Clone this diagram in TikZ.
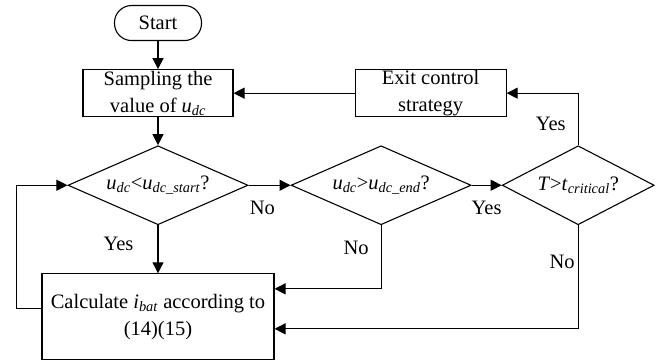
\documentclass[tikz,border=0pt]{standalone}
\usepackage{fontspec}
\setmainfont{Liberation Serif}
\usetikzlibrary{arrows.meta,positioning,shapes.geometric,calc}
\newcommand{\ivar}[2]{\textit{#1}\textsubscript{\textit{#2}}}

\begin{document}
\begin{tikzpicture}[%
    >={Triangle[length=11pt,width=11pt]},align=center,line width=1.1pt,
    every node/.style={font=\fontsize{20.5}{27}\selectfont}]
    \tikzstyle{base}=[draw=black,fill=white,line width=1.1pt]
    \tikzstyle{extreme}=[base,rectangle,rounded corners=17pt,minimum width=87pt,minimum height=35pt,inner sep=0pt]
    \tikzstyle{action}=[base,rectangle,minimum height=47pt,inner sep=0pt]
    \tikzstyle{condition}=[base,diamond,inner sep=0pt,aspect=2.28,minimum height=79pt]
    \tikzstyle{lbl}=[inner sep=0pt]
    % All states
    \node (start) [extreme]                                  {Start};
    \node (sample) [action,minimum width=150pt,below=28pt of start]
          {Sampling the\\value of \ivar{u}{dc}};
    \node (exit) [action,minimum width=151pt,right=121pt of sample]
          {Exit control\\strategy};
    \node (lowV) [condition,minimum width=180pt,below=28pt of sample]
          {\ivar{u}{dc}<\ivar{u}{dc\_start}?};
    \node (highV) [condition,minimum width=180pt,right=42pt of lowV]
          {\ivar{u}{dc}>\ivar{u}{dc\_end}?};
    \node (hot) [condition,minimum width=152pt,right=30pt of highV]
          {\textit{T}>\ivar{t}{critical}?};
    \node (calc) [action,minimum width=232pt,minimum height=86pt,below=48pt of lowV]
          {Calculate \ivar{i}{bat} according to\\(14)(15)};
    \useasboundingbox ($(start.north)+(-158pt,5pt)$) rectangle ++(668pt,-339pt);
    % Edges
    \draw [->] (start) -- (sample);
    \draw [->] (sample) -- (lowV);
    \draw [->] (exit) -- (sample);
    \draw [->] (lowV) -- node[lbl,below=15pt,pos=0.33] {No} (highV);
    \draw [->] (highV) -- node[lbl,below=15pt] {Yes} (hot);
    \draw [->] (lowV) -- node[lbl,left=24pt,pos=0.38] {Yes} (calc);
    \draw [->] (highV) |- node[lbl,left=12pt,pos=0.18] {No} ([yshift=28pt]calc.east);
    \draw [->] (hot) |- node[lbl,left=3pt,pos=0.175] {No} ([yshift=-12pt]calc.east);
    \draw [->] (hot) |- node[lbl,left=12pt,pos=0.2] {Yes} (exit);
    \draw [->] ([yshift=8pt]calc.west) -- ++(-25pt,0) |- (lowV);
  \end{tikzpicture}
\end{document}
